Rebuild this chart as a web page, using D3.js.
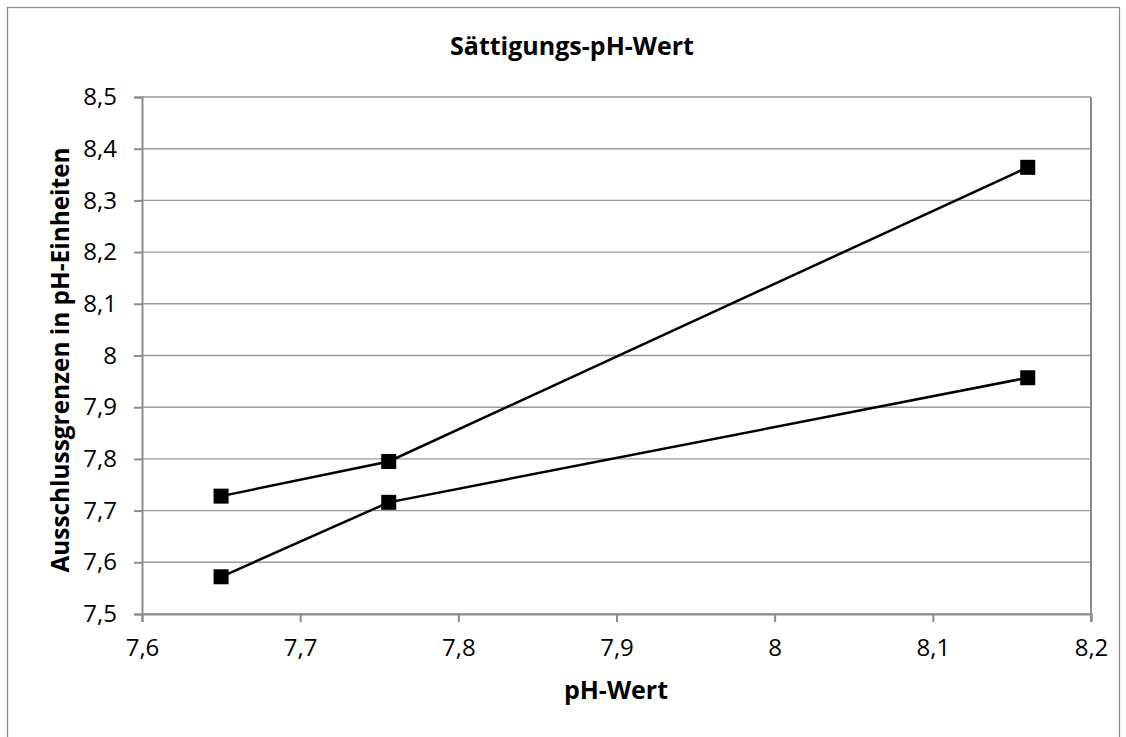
<!DOCTYPE html>
<html><head><meta charset="utf-8">
<script src="https://cdn.jsdelivr.net/npm/d3@7"></script>
<style>body{margin:0;background:#fff}svg{display:block}text{font-family:"Open Sans",sans-serif;fill:#000}</style>
</head><body>
<svg id="c" width="1126" height="737"></svg>
<script>
const title = "Sättigungs-pH-Wert";
const xTitle = "pH-Wert";
const yTitle = "Ausschlussgrenzen in pH-Einheiten";
const xTicks = [7.6, 7.7, 7.8, 7.9, 8.0, 8.1, 8.2];
const yTicks = [7.5, 7.6, 7.7, 7.8, 7.9, 8.0, 8.1, 8.2, 8.3, 8.4, 8.5];
const seriesUpperX = [7.65, 7.756, 8.16];
const seriesUpperY = [7.728, 7.795, 8.364];
const seriesLowerX = [7.65, 7.756, 8.16];
const seriesLowerY = [7.572, 7.716, 7.957];

const svg = d3.select("#c");
const L = 142, R = 1091, T = 97, B = 614;
const x = d3.scaleLinear().domain([7.6, 8.2]).range([L, R]);
const y = d3.scaleLinear().domain([7.5, 8.5]).range([B, T]);
const fmt = d => String(+d.toFixed(1)).replace(".", ",");

// outer border
svg.append("rect").attr("x", 7.5).attr("y", 7.5).attr("width", 1112).attr("height", 760)
  .attr("fill", "none").attr("stroke", "#8c8c8c").attr("stroke-width", 1.3);

// gridlines
svg.append("g").selectAll("line").data(yTicks).join("line")
  .attr("x1", L).attr("x2", R).attr("y1", d => y(d)).attr("y2", d => y(d))
  .attr("stroke", "#999").attr("stroke-width", 1.4);

// axes
const xAxis = svg.append("g").attr("transform", `translate(0,${B})`)
  .call(d3.axisBottom(x).tickValues(xTicks).tickFormat(fmt).tickSize(8).tickPadding(17));
const yAxis = svg.append("g").attr("transform", `translate(${L},0)`)
  .call(d3.axisLeft(y).tickValues(yTicks).tickFormat(fmt).tickSize(8).tickPadding(17));
[xAxis, yAxis].forEach(a => {
  a.select(".domain").attr("stroke", "#8c8c8c").attr("stroke-width", 2);
  a.selectAll(".tick line").attr("stroke", "#8c8c8c").attr("stroke-width", 2);
  a.selectAll(".tick text").attr("font-size", 24).attr("fill", "#000");
});
xAxis.selectAll(".tick text").attr("dy", "0.71em");
// right border of plot
svg.append("line").attr("x1", R).attr("x2", R).attr("y1", T).attr("y2", B + 8)
  .attr("stroke", "#8c8c8c").attr("stroke-width", 2);

// lines & markers
const line = d3.line().x(d => x(d[0])).y(d => y(d[1]));
[[seriesUpperX, seriesUpperY], [seriesLowerX, seriesLowerY]].forEach(([xs, ys]) => {
  const pts = xs.map((v, i) => [v, ys[i]]);
  svg.append("path").datum(pts).attr("d", line).attr("fill", "none")
    .attr("stroke", "#000").attr("stroke-width", 2.5);
  svg.append("g").selectAll("rect").data(pts).join("rect")
    .attr("x", d => x(d[0]) - 7.5).attr("y", d => y(d[1]) - 7.5)
    .attr("width", 15).attr("height", 15).attr("fill", "#000");
});

// titles
svg.append("text").attr("x", 572).attr("y", 55).attr("text-anchor", "middle")
  .attr("font-size", 25).attr("font-weight", "bold").text(title);
svg.append("text").attr("x", 616).attr("y", 699).attr("text-anchor", "middle")
  .attr("font-size", 25).attr("font-weight", "bold").text(xTitle);
svg.append("text").attr("transform", "translate(69,360) rotate(-90)").attr("text-anchor", "middle")
  .attr("font-size", 24.4).attr("font-weight", "bold").text(yTitle);
</script>
</body></html>
